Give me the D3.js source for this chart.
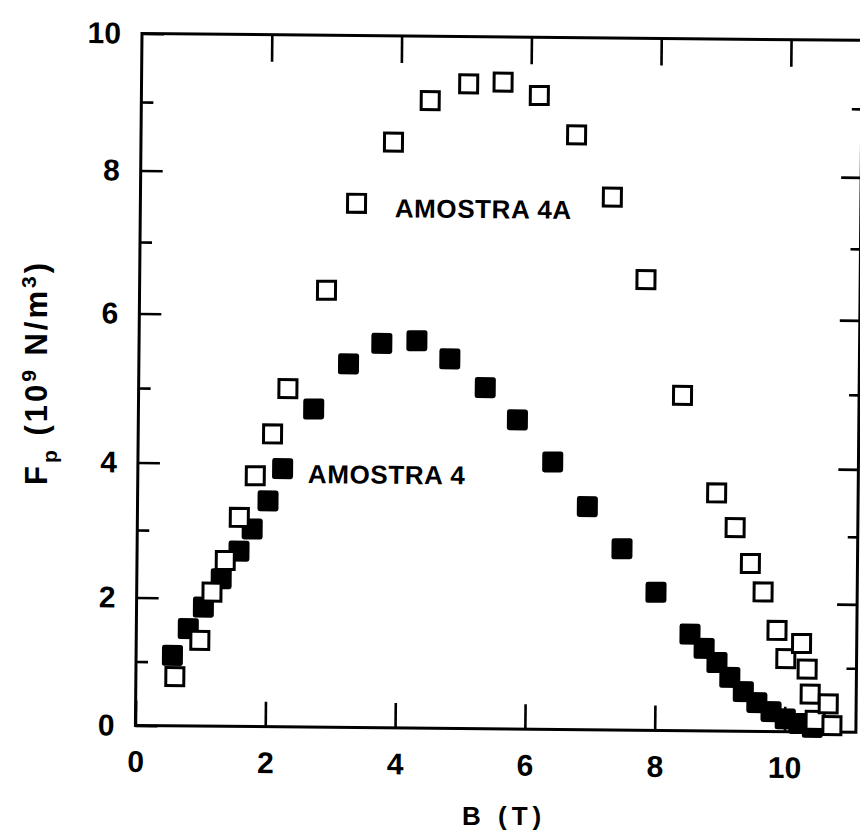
<!DOCTYPE html>
<html>
<head>
<meta charset="utf-8">
<script src="https://cdn.jsdelivr.net/npm/d3@7"></script>
<style>
  html, body { margin: 0; padding: 0; background: #fff; }
  svg { display: block; }
  text { font-family: "Liberation Sans", Arial, Helvetica, sans-serif; font-weight: bold; fill: #000; }
</style>
</head>
<body>
<svg id="chart" width="860" height="832"></svg>
<script>
// Pinning force density F_p versus applied field B

// AMOSTRA 4A (open squares)
const bA4A  = [0.60, 0.98, 1.16, 1.36, 1.57, 1.81, 2.07, 2.30, 2.88, 3.33, 3.89, 4.45, 5.04, 5.57, 6.13, 6.71,
               7.27, 7.80, 8.38, 8.92, 9.21, 9.45, 9.65, 9.87, 10.01, 10.25, 10.34, 10.39, 10.47, 10.67, 10.73];
const fpA4A = [0.77, 1.34, 2.09, 2.56, 3.20, 3.82, 4.40, 5.01, 6.35, 7.57, 8.45, 9.06, 9.31, 9.34, 9.15, 8.58,
               7.69, 6.54, 4.97, 3.63, 3.12, 2.59, 2.17, 1.58, 1.14, 1.38, 0.98, 0.59, 0.18, 0.44, 0.10];

// AMOSTRA 4 (filled squares)
const bA4  = [0.56, 0.80, 1.03, 1.30, 1.57, 1.77, 2.01, 2.23, 2.70, 3.23, 3.74, 4.28, 4.79, 5.34, 5.84,
              6.39, 6.93, 7.47, 8.00, 8.53, 8.75, 8.95, 9.15, 9.36, 9.57, 9.79, 10.01, 10.22, 10.43];
const fpA4 = [1.10, 1.52, 1.86, 2.29, 2.70, 3.03, 3.45, 3.93, 4.74, 5.35, 5.63, 5.67, 5.43, 5.05, 4.62,
              4.06, 3.41, 2.79, 2.15, 1.51, 1.29, 1.07, 0.84, 0.62, 0.45, 0.31, 0.20, 0.13, 0.07];

const xTicks = [0, 2, 4, 6, 8, 10];
const yTicks = [0, 2, 4, 6, 8, 10];
const yMinorTicks = [1, 3, 5, 7, 9];
const xDomainMax = 11.1;

// curve annotations, anchored in data units
const annotations = [
  { text: "AMOSTRA 4A", b: 3.92, fp: 7.38 },
  { text: "AMOSTRA 4",  b: 2.62, fp: 3.72 }
];

const svg = d3.select("#chart");
const W = 720.5, H = 692;

const x = d3.scaleLinear().domain([0, xDomainMax]).range([0, W]);
// vertical axis calibrated at the labelled ticks
const y = d3.scaleLinear().domain(yTicks).range([692, 564, 429, 280, 137, 0]);

// plot frame (printed slightly askew)
const g = svg.append("g").attr("transform", "translate(142,33.5) rotate(0.545)");

const styleAxis = sel => {
  sel.select(".domain").remove();
  sel.selectAll(".tick line").attr("stroke", "#000").attr("stroke-width", 2.6);
};

// bottom axis: inward ticks, labels below
g.append("g").attr("transform", `translate(0,${H})`)
  .call(d3.axisBottom(x).tickValues(xTicks).tickSizeInner(-25).tickSizeOuter(0).tickPadding(25).tickFormat(d3.format("d")))
  .call(styleAxis)
  .call(s => s.selectAll("text").attr("font-size", 30).attr("font-family", null));

// top axis: inward ticks only
g.append("g")
  .call(d3.axisTop(x).tickValues(xTicks.filter(d => d > 0)).tickSizeInner(-27).tickSizeOuter(0).tickFormat(""))
  .call(styleAxis);

// left axis: major ticks with labels, minor ticks
g.append("g")
  .call(d3.axisLeft(y).tickValues(yTicks).tickSizeInner(-22).tickSizeOuter(0).tickPadding(21).tickFormat(d3.format("d")))
  .call(styleAxis)
  .call(s => s.selectAll("text").attr("font-size", 30).attr("font-family", null));
g.append("g")
  .call(d3.axisLeft(y).tickValues(yMinorTicks).tickSizeInner(-12).tickSizeOuter(0).tickFormat(""))
  .call(styleAxis);

// right axis: inward ticks only
g.append("g").attr("transform", `translate(${W},0)`)
  .call(d3.axisRight(y).tickValues(yTicks.filter(d => d > 0 && d < 10)).tickSizeInner(-20).tickSizeOuter(0).tickFormat(""))
  .call(styleAxis);
g.append("g").attr("transform", `translate(${W},0)`)
  .call(d3.axisRight(y).tickValues(yMinorTicks).tickSizeInner(-10).tickSizeOuter(0).tickFormat(""))
  .call(styleAxis);

// frame
g.append("rect")
  .attr("x", 0).attr("y", 0).attr("width", W).attr("height", H)
  .attr("fill", "none").attr("stroke", "#000").attr("stroke-width", 3);

// AMOSTRA 4: filled squares
const sF = 21;
g.append("g").selectAll("rect")
  .data(d3.zip(bA4, fpA4))
  .join("rect")
  .attr("x", d => x(d[0]) - sF / 2)
  .attr("y", d => y(d[1]) - sF / 2)
  .attr("width", sF).attr("height", sF)
  .attr("rx", 2.5)
  .attr("fill", "#000");

// AMOSTRA 4A: open squares
const sO = 18;
g.append("g").selectAll("rect")
  .data(d3.zip(bA4A, fpA4A))
  .join("rect")
  .attr("x", d => x(d[0]) - sO / 2)
  .attr("y", d => y(d[1]) - sO / 2)
  .attr("width", sO).attr("height", sO)
  .attr("fill", "#fff")
  .attr("stroke", "#000")
  .attr("stroke-width", 3);

// curve labels
g.append("g").selectAll("text")
  .data(annotations)
  .join("text")
  .attr("x", d => x(d.b))
  .attr("y", d => y(d.fp))
  .attr("font-size", 26)
  .attr("letter-spacing", 0.6)
  .text(d => d.text);

// x-axis title
svg.append("text")
  .attr("x", 462).attr("y", 825)
  .attr("font-size", 26)
  .attr("letter-spacing", 5)
  .text("B (T)");

// y-axis title: F_p (10^9 N/m^3)
const yt = svg.append("text")
  .attr("transform", "translate(47,485) rotate(-90)")
  .attr("font-size", 31)
  .attr("letter-spacing", 3);
yt.append("tspan").text("F");
yt.append("tspan").attr("font-size", 21).attr("dy", 10).text("p");
yt.append("tspan").attr("dy", -10).text(" (10");
yt.append("tspan").attr("font-size", 21).attr("dy", -11).text("9");
yt.append("tspan").attr("dy", 11).text(" N/m");
yt.append("tspan").attr("font-size", 21).attr("dy", -11).text("3");
yt.append("tspan").attr("dy", 11).text(")");
</script>
</body>
</html>
